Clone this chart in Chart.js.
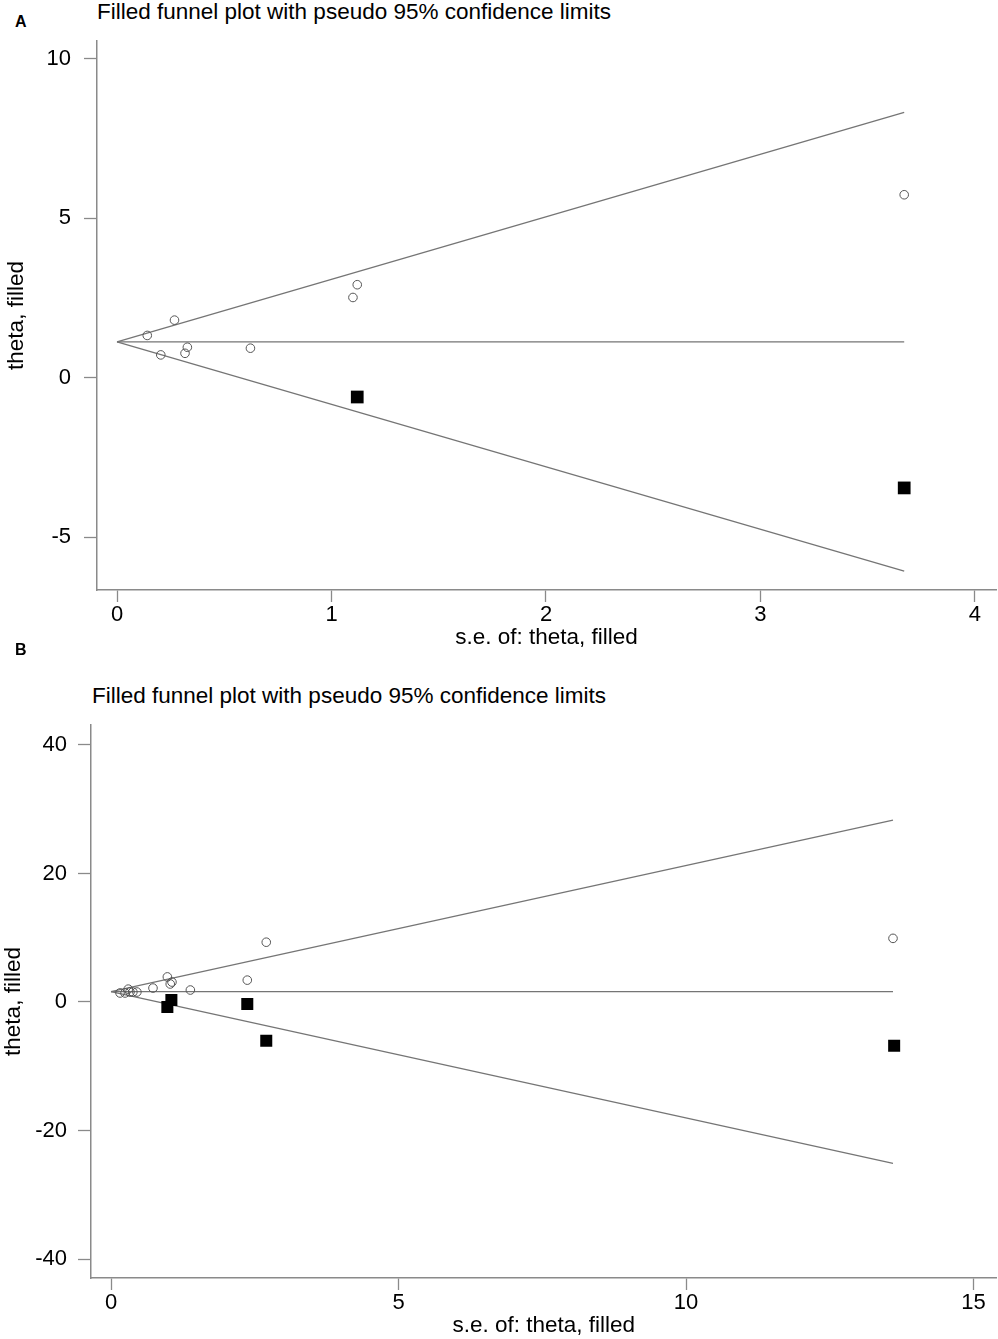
<!DOCTYPE html>
<html>
<head>
<meta charset="utf-8">
<script src="https://cdn.jsdelivr.net/npm/chart.js@4.4.0/dist/chart.umd.min.js"></script>
<style>
  html, body { margin: 0; padding: 0; background: #fff; }
  body { width: 998px; height: 1339px; position: relative; overflow: hidden; font-family: "Liberation Sans", Arial, sans-serif; }
  .box { position: absolute; left: 0; width: 1005px; }
  .panel { position: absolute; font-weight: bold; font-size: 16px; line-height: 18px; color: #000; }
  .title { position: absolute; font-size: 22.5px; line-height: 26px; color: #000; white-space: nowrap; }
</style>
</head>
<body>
<div class="panel" style="left:15px; top:13px;">A</div>
<div class="title" style="left:97px; top:-1px;">Filled funnel plot with pseudo 95% confidence limits</div>
<div class="box" id="boxA" style="top:0px; height:651px;"><canvas id="chartA"></canvas></div>

<div class="panel" style="left:15px; top:641px;">B</div>
<div class="title" style="left:92px; top:683px;">Filled funnel plot with pseudo 95% confidence limits</div>
<div class="box" id="boxB" style="top:651px; height:688px;"><canvas id="chartB"></canvas></div>

<script>
// ---------- Panel A data ----------
const seObservedA    = [0.141, 0.268, 0.204, 0.317, 0.328, 0.622, 1.10, 1.12, 3.67];
const thetaObservedA = [1.33, 1.81, 0.72, 0.77, 0.96, 0.93, 2.52, 2.92, 5.74];
const seFilledA      = [1.12, 3.67];
const thetaFilledA   = [-0.60, -3.45];
const funnelSeA      = [0, 3.67];
const funnelCenterA  = [1.13, 1.13];
const funnelUpperA   = [1.13, 8.32];
const funnelLowerA   = [1.13, -6.06];
const xTicksA = [0, 1, 2, 3, 4];
const yTicksA = [-5, 0, 5, 10];

// ---------- Panel B data ----------
const seObservedB    = [0.157, 0.244, 0.30, 0.33, 0.38, 0.45, 0.73, 0.98, 1.03, 1.06, 1.38, 2.37, 2.70, 13.60];
const thetaObservedB = [1.40, 1.40, 2.00, 1.55, 1.55, 1.55, 2.17, 3.90, 2.80, 3.10, 1.86, 3.40, 9.30, 9.90];
const seFilledB      = [0.98, 1.05, 2.37, 2.70, 13.62];
const thetaFilledB   = [-0.78, 0.31, -0.31, -6.05, -6.80];
const funnelSeB      = [0, 13.6];
const funnelCenterB  = [1.6, 1.6];
const funnelUpperB   = [1.6, 28.3];
const funnelLowerB   = [1.6, -25.1];
const xTicksB = [0, 5, 10, 15];
const yTicksB = [-40, -20, 0, 20, 40];

const FONT = "'Liberation Sans', Arial, sans-serif";
const AXIS = '#8a8a8a';
const LINE = '#757575';

function pts(xs, ys) { return xs.map((x, i) => ({ x: x, y: ys[i] })); }

function makeChart(id, cfg) {
  const lineDs = (xs, ys) => ({
    type: 'line', data: pts(xs, ys), borderColor: LINE, borderWidth: 1.3,
    pointRadius: 0, fill: false, tension: 0, order: 2
  });
  return new Chart(document.getElementById(id), {
    type: 'scatter',
    data: {
      datasets: [
        { data: pts(cfg.seF, cfg.thF), pointStyle: 'rect', pointRadius: cfg.sq,
          backgroundColor: '#000', borderColor: '#000', borderWidth: 0, order: 0 },
        { data: pts(cfg.seO, cfg.thO), pointStyle: 'circle', pointRadius: 4.3,
          backgroundColor: 'rgba(255,255,255,0)', borderColor: '#555', borderWidth: 1, order: 1 },
        lineDs(cfg.fs, cfg.fc),
        lineDs(cfg.fs, cfg.fu),
        lineDs(cfg.fs, cfg.fl)
      ]
    },
    options: {
      responsive: true, maintainAspectRatio: false, animation: false,
      devicePixelRatio: 1,
      layout: { padding: { left: 0, right: cfg.pr, top: cfg.top, bottom: 0 } },
      plugins: { legend: { display: false }, tooltip: { enabled: false }, title: { display: false } },
      scales: {
        x: {
          type: 'linear', min: cfg.xmin, max: cfg.xmax,
          afterBuildTicks: s => { s.ticks = cfg.xt.map(v => ({ value: v })); },
          afterFit: s => { s.height = cfg.xh; s.paddingLeft = 0; s.paddingRight = 0; },
          grid: { drawOnChartArea: false, tickLength: 12, tickColor: AXIS, tickWidth: 1.3 },
          border: { color: AXIS, width: 1.5 },
          ticks: { color: '#000', font: { family: FONT, size: 22 }, padding: 0, maxRotation: 0 },
          title: { display: true, text: 's.e. of: theta, filled', color: '#000',
                   font: { family: FONT, size: 22.5 }, padding: { top: 0, bottom: 0 } }
        },
        y: {
          type: 'linear', min: cfg.ymin, max: cfg.ymax,
          afterBuildTicks: s => { s.ticks = cfg.yt.map(v => ({ value: v })); },
          afterFit: s => { s.width = cfg.yw; s.paddingTop = 0; s.paddingBottom = 0; },
          grid: { drawOnChartArea: false, tickLength: 13, tickColor: AXIS, tickWidth: 1.3 },
          border: { color: AXIS, width: 1.5 },
          ticks: { color: '#000', font: { family: FONT, size: 22 }, padding: cfg.ypad },
          title: { display: true, text: 'theta, filled', color: '#000',
                   font: { family: FONT, size: 22.5 }, padding: { top: cfg.ytp, bottom: 0 } }
        }
      }
    }
  });
}

makeChart('chartA', {
  seO: seObservedA, thO: thetaObservedA, seF: seFilledA, thF: thetaFilledA,
  fs: funnelSeA, fc: funnelCenterA, fu: funnelUpperA, fl: funnelLowerA,
  xt: xTicksA, yt: yTicksA,
  xmin: -0.0933, xmax: 4.098, ymin: -6.65, ymax: 10.56,
  top: 41, xh: 61, yw: 97, ypad: 13, ytp: 3, sq: 9, pr: 3
});

makeChart('chartB', {
  seO: seObservedB, thO: thetaObservedB, seF: seFilledB, thF: thetaFilledB,
  fs: funnelSeB, fc: funnelCenterB, fu: funnelUpperB, fl: funnelLowerB,
  xt: xTicksB, yt: yTicksB,
  xmin: -0.348, xmax: 15.4, ymin: -42.95, ymax: 43.1,
  top: 74, xh: 61, yw: 91, ypad: 11, ytp: 0, sq: 8.5, pr: 3
});
</script>
</body>
</html>
